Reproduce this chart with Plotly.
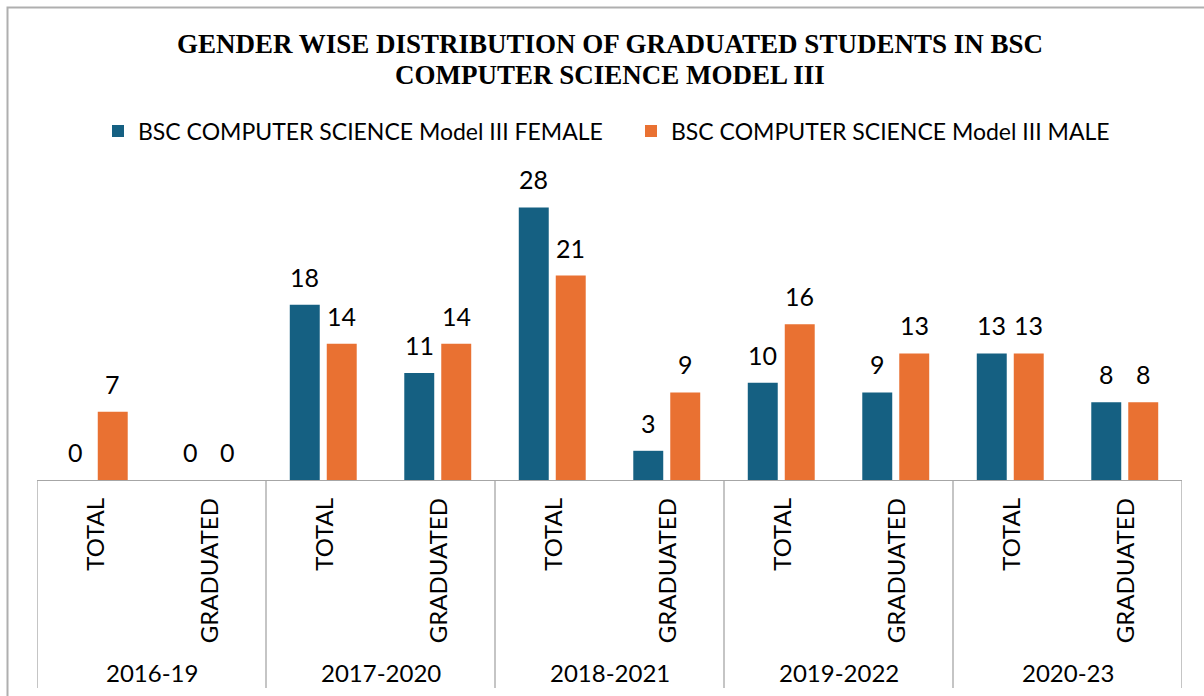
import plotly.graph_objects as go

# Cohorts and the two rows shown for each cohort
cohorts = ["2016-19", "2017-2020", "2018-2021", "2019-2022", "2020-23"]
rows = ["TOTAL", "GRADUATED"]

female = [0, 0, 18, 11, 28, 3, 10, 9, 13, 8]
male = [7, 0, 14, 14, 21, 9, 16, 13, 13, 8]

series_names = [
    "BSC COMPUTER SCIENCE Model III FEMALE",
    "BSC COMPUTER SCIENCE Model III MALE",
]
colors = ["#156082", "#E97132"]
title_lines = [
    "GENDER WISE DISTRIBUTION OF GRADUATED STUDENTS IN BSC",
    "COMPUTER SCIENCE MODEL III",
]

W, H = 1204, 696
ML, MR, MT, MB = 37, 22, 188, 216
PW, PH = W - ML - MR, H - MT - MB
BARGAP, GROUPGAP = 0.354, 0.19


def px_x(x):
    return (x - ML) / PW


def px_y(y):
    return (H - MB - y) / PH


label_font = dict(family="Lato, Calibri, sans-serif", size=24, color="#000000")
value_font = dict(family="Lato, Calibri, sans-serif", size=25, color="#000000")
n = len(cohorts) * len(rows)
xs = list(range(n))

# horizontal pixel offset of each bar centre inside its category
cat_w = PW / n
slot_w = cat_w * (1 - BARGAP) / 2
bar_shift = [-slot_w / 2, slot_w / 2]

fig = go.Figure()
for name, vals, col in zip(series_names, [female, male], colors):
    fig.add_trace(go.Bar(
        x=xs, y=vals, name=name,
        marker=dict(color=col, line=dict(width=0)),
    ))

annotations = []
# value labels above each bar
for vals, dx in zip([female, male], bar_shift):
    for i, v in zip(xs, vals):
        annotations.append(dict(
            x=i, xref="x", y=v, yref="y", xshift=dx, yshift=11,
            text=str(v), showarrow=False, xanchor="center", yanchor="bottom",
            font=value_font,
        ))
# rotated row labels under each category
for i in xs:
    annotations.append(dict(
        x=i, xref="x", y=px_y(496), yref="paper",
        text=rows[i % 2], textangle=-90, showarrow=False,
        xanchor="center", yanchor="top", font=label_font,
    ))
# cohort labels
for g, c in enumerate(cohorts):
    annotations.append(dict(
        x=2 * g + 0.5, xref="x", y=px_y(672), yref="paper",
        text=c, showarrow=False, xanchor="center", yanchor="middle",
        font=label_font,
    ))
# two-line bold title
title_font = dict(family="Liberation Serif, Times New Roman, serif", size=27,
                  color="#000000", weight="bold")
for txt, yc in zip(title_lines, [44, 75]):
    annotations.append(dict(
        x=px_x(609.5), xref="paper", y=px_y(yc), yref="paper",
        text=txt, showarrow=False, xanchor="center", yanchor="middle",
        font=title_font,
    ))

line_col = "#A6A6A6"
shapes = []
# dividers between cohorts
for k in range(len(cohorts) + 1):
    shapes.append(dict(
        type="line", xref="x", yref="paper",
        x0=2 * k - 0.5, x1=2 * k - 0.5, y0=0, y1=px_y(688),
        line=dict(color=line_col, width=1.3),
    ))
# outer chart frame
shapes.append(dict(
    type="rect", xref="paper", yref="paper",
    x0=px_x(7.5), x1=px_x(1215), y0=px_y(7.5), y1=px_y(710),
    line=dict(color="#AFAFAF", width=2), fillcolor="rgba(0,0,0,0)",
))

fig.update_layout(
    width=W, height=H,
    margin=dict(l=ML, r=MR, t=MT, b=MB),
    paper_bgcolor="white", plot_bgcolor="white",
    barmode="group", bargap=BARGAP, bargroupgap=GROUPGAP,
    legend=dict(
        orientation="h", x=px_x(98), xanchor="left", y=px_y(131),
        yanchor="middle", font=dict(family="Lato, Calibri, sans-serif", size=23,
                                    color="#000000"),
        bgcolor="rgba(0,0,0,0)", itemwidth=30,
        entrywidth=488, entrywidthmode="pixels",
    ),
    xaxis=dict(
        range=[-0.5, n - 0.5], showticklabels=False, ticks="",
        showgrid=False, zeroline=False,
        showline=True, linecolor=line_col, linewidth=1.3,
    ),
    yaxis=dict(
        range=[0, 30], visible=False, showgrid=False, zeroline=False,
    ),
    annotations=annotations,
    shapes=shapes,
    showlegend=True,
)

fig.write_html("out.html")
